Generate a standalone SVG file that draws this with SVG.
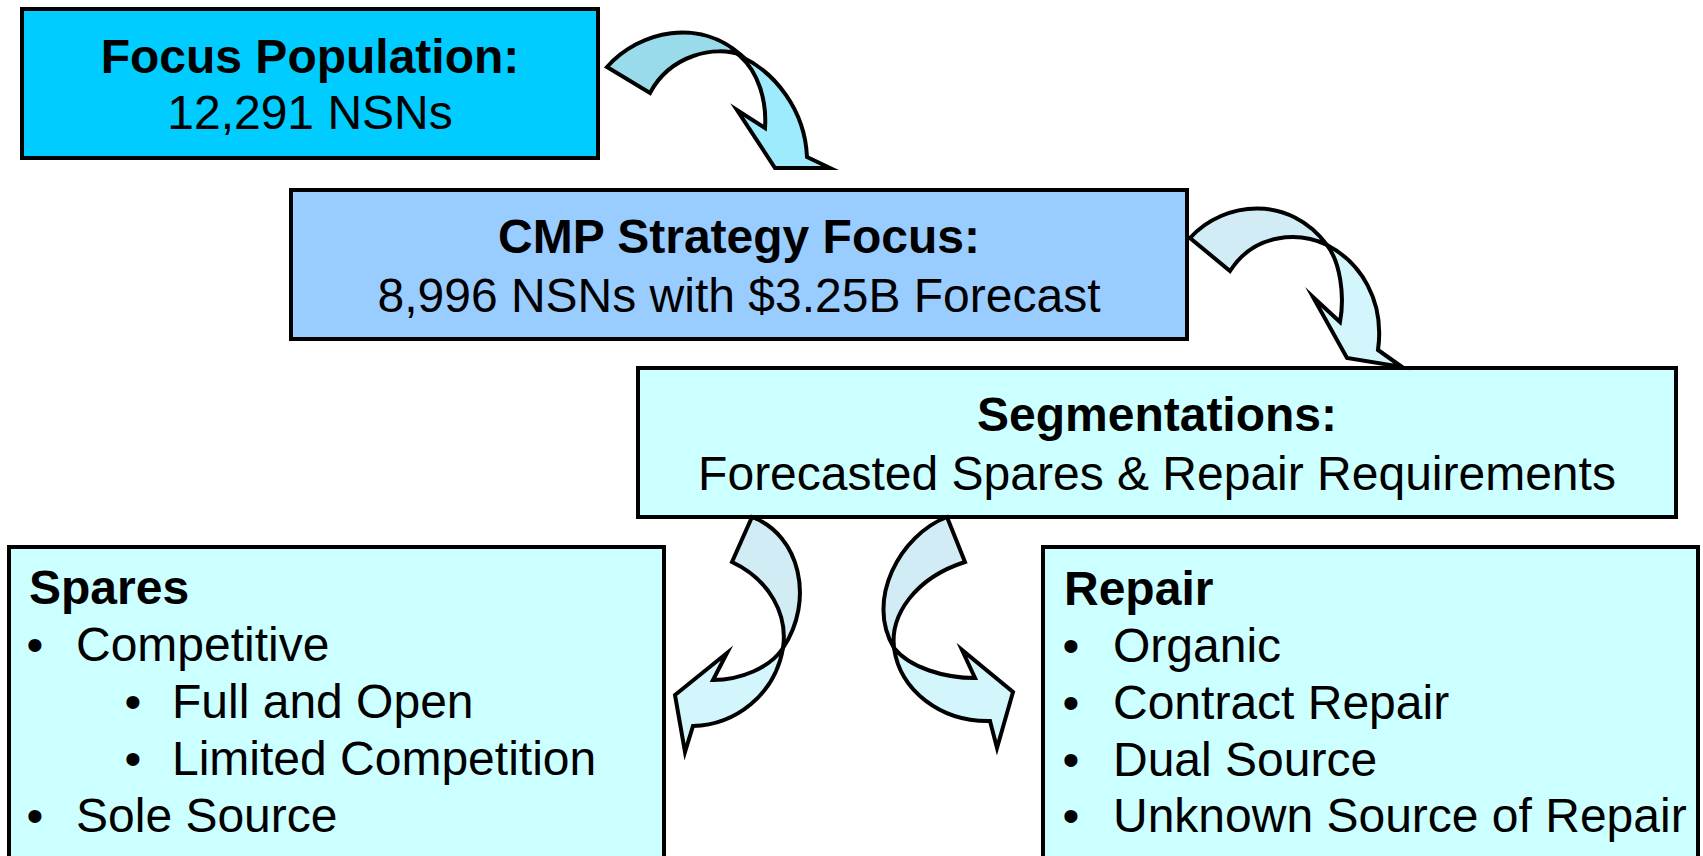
<svg xmlns="http://www.w3.org/2000/svg" width="1703" height="856" viewBox="0 0 1703 856">
  <style>
    text { font-family: "Liberation Sans", Arial, sans-serif; font-size: 48px; fill: #000; }
    .b { font-weight: bold; }
    .c { text-anchor: middle; }
    .box { stroke: #000; stroke-width: 4; }
    .arr { stroke: #000; stroke-width: 4; stroke-linejoin: miter; stroke-miterlimit: 10; }
    .a1back { fill: #99DBEB; }
    .a1front { fill: #9DEBFD; }
    .aback { fill: #D1ECF4; }
    .afront { fill: #D3F5FC; }
  </style>
  <rect width="1703" height="856" fill="#FFFFFF"/>

  <g id="focus-population">
    <rect class="box" x="22" y="9" width="576" height="149" fill="#00CCFF"/>
    <text class="b c" x="310" y="73">Focus Population:</text>
    <text class="c" x="310" y="129">12,291 NSNs</text>
  </g>

  <g id="cmp-strategy-focus">
    <rect class="box" x="291" y="190" width="896" height="149" fill="#99CCFF"/>
    <text class="b c" x="739" y="253">CMP Strategy Focus:</text>
    <text class="c" x="739" y="312">8,996 NSNs with $3.25B Forecast</text>
  </g>

  <g id="segmentations">
    <rect class="box" x="638" y="368" width="1038" height="149" fill="#CCFFFF"/>
    <text class="b c" x="1157" y="431">Segmentations:</text>
    <text class="c" x="1157" y="490">Forecasted Spares &amp; Repair Requirements</text>
  </g>

  <g id="spares">
    <rect class="box" x="9" y="547" width="655" height="312" fill="#CCFFFF"/>
    <text class="b" x="29" y="604">Spares</text>
    <text class="c" x="35" y="661">•</text>
    <text x="76" y="661">Competitive</text>
    <text class="c" x="133" y="718">•</text>
    <text x="172" y="718">Full and Open</text>
    <text class="c" x="133" y="775">•</text>
    <text x="172" y="775">Limited Competition</text>
    <text class="c" x="35" y="832">•</text>
    <text x="76" y="832">Sole Source</text>
  </g>

  <g id="repair">
    <rect class="box" x="1043" y="547" width="655" height="312" fill="#CCFFFF"/>
    <text class="b" x="1064" y="605">Repair</text>
    <text class="c" x="1071" y="662">•</text>
    <text x="1113" y="662">Organic</text>
    <text class="c" x="1071" y="719">•</text>
    <text x="1113" y="719">Contract Repair</text>
    <text class="c" x="1071" y="776">•</text>
    <text x="1113" y="776">Dual Source</text>
    <text class="c" x="1071" y="832">•</text>
    <text x="1113" y="832">Unknown Source of Repair</text>
  </g>

  <g id="connectors">
    <g id="arrow-focus-to-cmp">
      <path class="arr a1back" d="M607,67 C640,30 700,18 741,55 C715,45 670,55 650,93 Z"/>
      <path class="arr a1front" d="M740,56 C775,72 805,110 807,157 L830,168 L775,168 L737,110 L765,128 C767,100 758,72 740,56 Z"/>
    </g>
    <g id="arrow-cmp-to-seg">
      <path class="arr aback" d="M1190,238 C1225,200 1290,195 1327,245 C1300,232 1255,232 1230,271 Z"/>
      <path class="arr afront" d="M1327,245 C1360,262 1385,300 1378,350 L1402,367 L1347,358 L1313,297 L1340,322 C1345,295 1340,262 1327,245 Z"/>
    </g>
    <g id="arrow-seg-to-spares">
      <path class="arr aback" d="M752,517 C800,535 815,600 783,648 C788,615 770,580 732,562 Z"/>
      <path class="arr afront" d="M783,648 C775,695 735,725 693,726 L685,752 L675,695 L727,653 L713,680 C740,680 770,668 783,648 Z"/>
    </g>
    <g id="arrow-seg-to-repair">
      <path class="arr aback" d="M947,517 C900,535 865,600 894,648 C890,615 915,578 965,562 Z"/>
      <path class="arr afront" d="M894,648 C900,690 940,722 990,721 L997,748 L1013,692 L962,650 L975,678 C945,678 910,668 894,648 Z"/>
    </g>
  </g>
</svg>
